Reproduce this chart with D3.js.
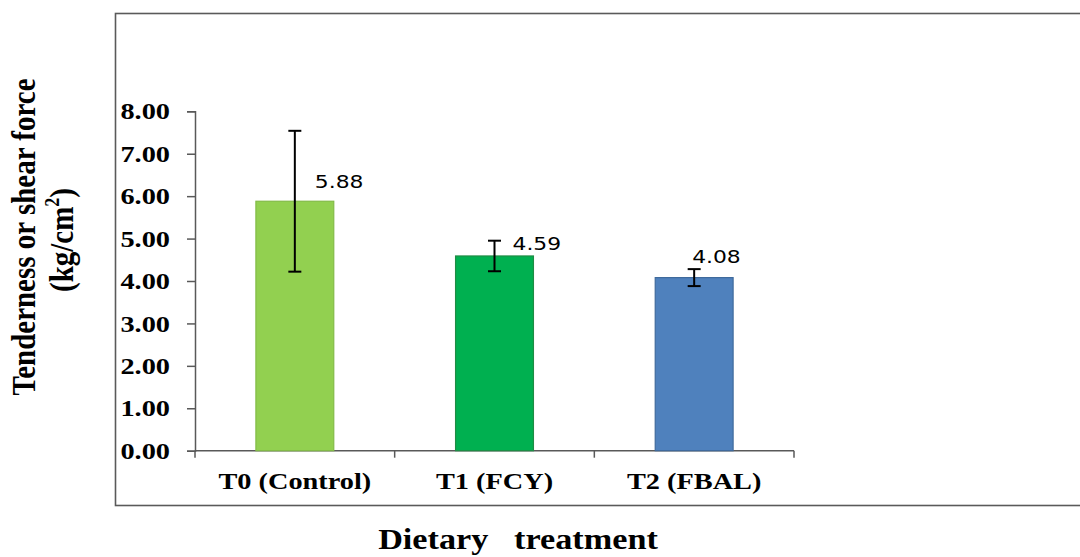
<!DOCTYPE html>
<html>
<head>
<meta charset="utf-8">
<script src="https://cdn.jsdelivr.net/npm/d3@7"></script>
<style>
  body { margin: 0; background: #fff; }
</style>
</head>
<body>
<div id="chart"></div>
<script>
// data
const treatments = ["T0 (Control)", "T1 (FCY)", "T2 (FBAL)"];
const means = [5.88, 4.59, 4.08];
const errors = [1.66, 0.36, 0.20];
const yTicks = [0, 1, 2, 3, 4, 5, 6, 7, 8];

// layout only
const barFill = ["#92d050", "#00b050", "#4f81bd"];
const barStroke = ["#82bb47", "#1f8c45", "#3f6a9c"];
const labelNudge = [[20, -20], [18, -13], [-2, -21]];
const stretchX = 1.18; // the picture's text is slightly wide

const W = 1080, H = 557;

const svg = d3.select("#chart")
  .append("svg")
  .attr("width", W)
  .attr("height", H);

// frame round the plot (right edge sits off the page)
svg.append("rect")
  .attr("x", 115.5)
  .attr("y", 13.5)
  .attr("width", 990)
  .attr("height", 492)
  .attr("fill", "none")
  .attr("stroke", "#5a5a5a")
  .attr("stroke-width", 1.6);

const x = d3.scaleBand()
  .domain(treatments)
  .range([195, 794])
  .paddingInner(0.61)
  .paddingOuter(0.305);

const y = d3.scaleLinear()
  .domain([0, 8])
  .range([450.7, 111.3]);

function stretch(sel, k) {
  sel.each(function () {
    const w = this.getComputedTextLength();
    d3.select(this).attr("textLength", w * k).attr("lengthAdjust", "spacingAndGlyphs");
  });
}

// y axis
const yAxis = svg.append("g")
  .attr("transform", "translate(195,0)")
  .call(d3.axisLeft(y).tickValues(yTicks).tickFormat(d3.format(".2f")).tickSize(8).tickPadding(17));

yAxis.select(".domain").attr("stroke", "#595959").attr("stroke-width", 1.5);
yAxis.selectAll(".tick line").attr("stroke", "#595959").attr("stroke-width", 1.5);
yAxis.selectAll("text")
  .attr("font-family", "'Liberation Serif', serif")
  .attr("font-weight", "bold")
  .attr("font-size", 24)
  .attr("fill", "#000")
  .call(stretch, stretchX);

// x axis: labels at centres, ticks on the band edges
const xAxis = svg.append("g")
  .attr("transform", `translate(0,${y(0)})`)
  .call(d3.axisBottom(x).tickSize(0).tickPadding(21));

xAxis.select(".domain").remove();
xAxis.append("line")
  .attr("x1", x.range()[0])
  .attr("x2", x.range()[1])
  .attr("stroke", "#595959")
  .attr("stroke-width", 1.5);

xAxis.selectAll(".edge")
  .data(d3.range(treatments.length + 1))
  .enter()
  .append("line")
  .attr("class", "edge")
  .attr("x1", i => x.range()[0] + i * x.step())
  .attr("x2", i => x.range()[0] + i * x.step())
  .attr("y1", 0)
  .attr("y2", 7)
  .attr("stroke", "#595959")
  .attr("stroke-width", 1.5);

xAxis.selectAll(".tick text")
  .attr("font-family", "'Liberation Serif', serif")
  .attr("font-weight", "bold")
  .attr("font-size", 24)
  .attr("fill", "#000")
  .call(stretch, stretchX);

// bars
svg.selectAll(".bar")
  .data(treatments)
  .enter()
  .append("rect")
  .attr("class", "bar")
  .attr("x", d => x(d))
  .attr("y", (d, i) => y(means[i]))
  .attr("width", x.bandwidth())
  .attr("height", (d, i) => y(0) - y(means[i]))
  .attr("fill", (d, i) => barFill[i])
  .attr("stroke", (d, i) => barStroke[i])
  .attr("stroke-width", 1.2);

// error bars
treatments.forEach((t, i) => {
  const cx = x(t) + x.bandwidth() / 2;
  const hi = y(means[i] + errors[i]);
  const lo = y(means[i] - errors[i]);

  svg.append("line")
    .attr("x1", cx).attr("x2", cx)
    .attr("y1", hi).attr("y2", lo)
    .attr("stroke", "#000")
    .attr("stroke-width", 2);

  [hi, lo].forEach(v => {
    svg.append("line")
      .attr("x1", cx - 6.5).attr("x2", cx + 6.5)
      .attr("y1", v).attr("y2", v)
      .attr("stroke", "#000")
      .attr("stroke-width", 2);
  });

  svg.append("text")
    .attr("x", cx + labelNudge[i][0])
    .attr("y", y(means[i]) + labelNudge[i][1])
    .attr("dy", "0.36em")
    .attr("font-family", "'DejaVu Sans', sans-serif")
    .attr("font-size", 18.5)
    .attr("fill", "#000")
    .text(means[i].toFixed(2))
    .call(stretch, stretchX);
});

// y title (widened sideways like the rest of the picture's text)
svg.append("text")
  .attr("transform", "translate(35,237) scale(1.15,1) rotate(-90)")
  .attr("text-anchor", "middle")
  .attr("font-family", "'Liberation Serif', serif")
  .attr("font-weight", "bold")
  .attr("font-size", 29)
  .text("Tenderness or shear force");

const unit = svg.append("text")
  .attr("transform", "translate(73,240) scale(1.15,1) rotate(-90)")
  .attr("text-anchor", "middle")
  .attr("font-family", "'Liberation Serif', serif")
  .attr("font-weight", "bold")
  .attr("font-size", 29);
unit.append("tspan").text("(kg/cm");
unit.append("tspan").attr("font-size", 18).attr("dy", -12).text("2");
unit.append("tspan").attr("dy", 12).text(")");

// x title
svg.append("text")
  .attr("x", 518)
  .attr("y", 549)
  .attr("text-anchor", "middle")
  .attr("font-family", "'Liberation Serif', serif")
  .attr("font-weight", "bold")
  .attr("font-size", 29)
  .style("white-space", "pre")
  .text("Dietary   treatment")
  .call(stretch, stretchX);
</script>
</body>
</html>
